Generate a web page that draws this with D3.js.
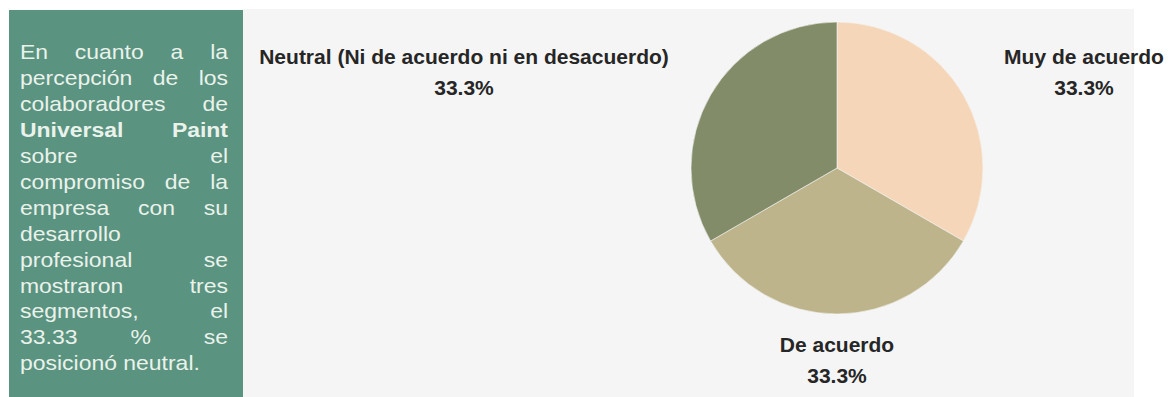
<!DOCTYPE html>
<html>
<head>
<meta charset="utf-8">
<script src="https://cdn.jsdelivr.net/npm/d3@7"></script>
<style>
  html, body { margin: 0; padding: 0; background: #ffffff; }
  svg { display: block; }
</style>
</head>
<body>
<svg id="chart" width="1174" height="397"></svg>
<script>
// Survey answers and their shares (percent)
const categories = ["Muy de acuerdo", "De acuerdo", "Neutral (Ni de acuerdo ni en desacuerdo)"];
const values = [33.3, 33.3, 33.3];
const colors = ["#f5d6b8", "#bdb48b", "#838c68"];

// Side note, one entry per line; bold lines flagged
const noteLines = [
  { words: ["En", "cuanto", "a", "la"] },
  { words: ["percepción", "de", "los"] },
  { words: ["colaboradores", "de"] },
  { words: ["Universal", "Paint"], bold: true },
  { words: ["sobre", "el"] },
  { words: ["compromiso", "de", "la"] },
  { words: ["empresa", "con", "su"] },
  { words: ["desarrollo"], last: true },
  { words: ["profesional", "se"] },
  { words: ["mostraron", "tres"] },
  { words: ["segmentos,", "el"] },
  { words: ["33.33", "%", "se"] },
  { words: ["posicionó", "neutral."], last: true }
];

const svg = d3.select("#chart");
const W = 1174, H = 397;

// Panels
svg.append("rect").attr("x", 243).attr("y", 9).attr("width", 891).attr("height", H - 9)
  .attr("fill", "#f5f5f5");
svg.append("rect").attr("x", 9).attr("y", 10).attr("width", 234).attr("height", H - 10)
  .attr("fill", "#5a937f");

// Justified note text (slightly widened face)
const sx = 1.12;
const note = svg.append("g")
  .attr("transform", `scale(${sx},1)`)
  .attr("font-family", "'Liberation Sans', Arial, sans-serif")
  .attr("font-size", 20.5).attr("fill", "#eaf2ec");
const left = 20 / sx, right = 228 / sx, firstBase = 59.5, lineH = 25.9;

noteLines.forEach((ln, i) => {
  const y = firstBase + i * lineH;
  const nodes = ln.words.map(w => note.append("text")
    .attr("y", y).attr("font-weight", ln.bold ? "bold" : "normal").text(w));
  const widths = nodes.map(n => n.node().getComputedTextLength());
  let gap = 5.7;
  if (!(ln.last || nodes.length === 1)) {
    gap = (right - left - d3.sum(widths)) / (nodes.length - 1);
  }
  let x = left;
  nodes.forEach((n, k) => { n.attr("x", x); x += widths[k] + gap; });
});

// Pie
const cx = 837, cy = 168, r = 146;
const pie = d3.pie().sort(null).value(d => d.value);
const arcs = pie(categories.map((c, i) => ({ name: c, value: values[i], color: colors[i] })));
const arc = d3.arc().innerRadius(0).outerRadius(r);

const g = svg.append("g").attr("transform", `translate(${cx},${cy})`);
g.selectAll("path").data(arcs).join("path")
  .attr("d", arc)
  .attr("fill", d => d.data.color)
  .attr("stroke", "#f5f5f5")
  .attr("stroke-width", 0.6);

// Labels: side slices go level with the top, the bottom slice goes under the pie
const fmt = d3.format(".1f");
const lab = svg.append("g").attr("font-family", "'Liberation Sans', Arial, sans-serif")
  .attr("font-weight", "bold").attr("font-size", 21).attr("fill", "#262626")
  .attr("text-anchor", "middle");

arcs.forEach(d => {
  const a = (d.startAngle + d.endAngle) / 2;
  const s = Math.sin(a);
  let x, y;
  if (Math.abs(s) > 0.5) {
    x = cx + (s > 0 ? 247 : -373);
    y = cy - 104;
  } else {
    x = cx;
    y = cy + 184;
  }
  lab.append("text").attr("x", x).attr("y", y).text(d.data.name);
  lab.append("text").attr("x", x).attr("y", y + 31).text(fmt(d.data.value) + "%");
});
</script>
</body>
</html>
